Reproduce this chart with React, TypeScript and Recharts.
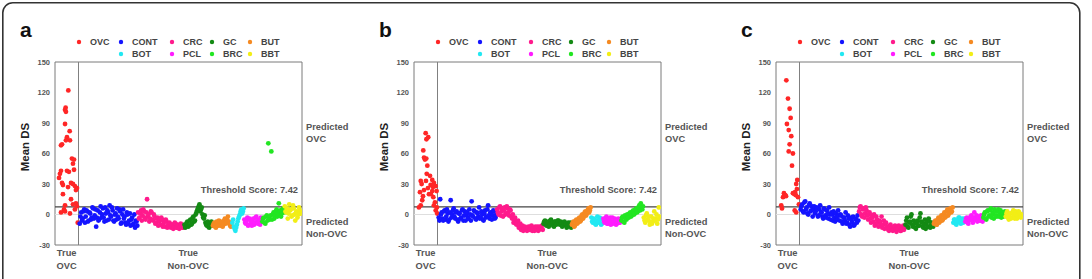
import React from 'react';
import { ScatterChart, Scatter, XAxis, YAxis, ReferenceLine, ReferenceArea, Label } from 'recharts';

const FONT = 'Arial, "Liberation Sans", Helvetica, sans-serif';

const groupNames = ['OVC', 'CONT', 'CRC', 'GC', 'BUT', 'BOT', 'PCL', 'BRC', 'BBT'];
const groupColors = ['#ff2626', '#1414ff', '#ff1a8c', '#148a14', '#f58a22', '#22e8f2', '#ff1cff', '#22e622', '#f2ee16'];

const yTicks = [-30, 0, 30, 60, 90, 120, 150];
const xTicks = [7.8, 89];
const xTickLabels = [['True', 'OVC'], ['True', 'Non-OVC']];
const rightTicks = [80, -13];
const rightTickLabels = [['Predicted', 'OVC'], ['Predicted', 'Non-OVC']];
const THRESHOLD = 7.42;
const DIVIDER = 15.7;
const X_MAX = 165;
// non-OVC samples are plotted in order, two per index step, starting here
const X_START = 16.5;

// ---- panel a ----
const ovcA = [
  [8.9, 122], [7.1, 105], [6.7, 103], [7.3, 101], [6.7, 89], [9.8, 82], [8, 76], [7.3, 73], [4.7, 69], [4, 68],
  [10, 73], [11.3, 55], [12.7, 54], [12, 50], [4, 43], [3.3, 40], [8, 43], [9.3, 42], [12.7, 44], [4.7, 31],
  [5.3, 29], [10.7, 31], [12, 30], [13.3, 28], [14.7, 26], [14, 24], [5.3, 20], [10.7, 15], [6.7, 9], [12, 10],
  [6, 5], [6.7, 3], [4, 2], [14, 11], [13.3, 5], [15.2, -8], [2.7, 36], [8.7, 27], [14.7, 8], [10, 1],
];
const contA = [-9, 2, -4, 5, -2, 3, -6, 1, -3, 6, -1, -12, 4, -5, 8, 0, -3, 7, -6, 2, 9, -2, 4, -7, 1, 6, -4, 3, -8, 5, -2, -10, 0, -6, -11, -3, -9, -13, -7];
const contA2 = [-2, -6, 3, -8, 4, -7, 2, -5, 7, -4, 5, -3, -6, 2, -3, 6, -7, 1, 4, -5, -1, 7, -6, 0, -5, -2, 5, -9, 0, -4, -8, 2, -9, 1, -5, -10, 0, -6, -11];
const crcA = [2, -3, 4, -1, 3, -5, 15, 0, -4, 2, -6, -2, -8, -3, -7, -10, -5, -9, -12, -7, -11, -8, -13, -10, -12, -9, -13, -11, -12, -10, -13];
const crcA2 = [-4, 1, -6, 5, -3, 2, -2, -7, 3, -5, 0, -9, -4, -11, -6, -3, -12, -7, -5, -13, -9, -12, -10, -14, -8, -13, -10, -14, -9, -13, -11];
const gcA = [-10, -12, -7, -11, -5, -9, -2, -6, 2, 6, 10, 5, 0, -4, -8, -11, -12, -10, -7];
const gcA2 = [-13, -8, -12, -6, -10, -3, -7, 0, 4, 8, 3, 7, -3, -1, -10, -7, -13, -8, -11];
const butA = [-11, -8, -13, -9, -6, -11, -7, -10, -4, -8, -2, -9, -12];
const butA2 = [-9, -12, -7, -11, -10, -8, -12, -6, -9, -5, -7, -11, -8];
const botA = [-8, -12, -16, -10, -4, 0, 5, 3];
const botA2 = [-5, -14, -13, -7, -2, 3, 1, 6];
const pclA = [-5, -9, -3, -10, -6, -11, -4, -8, -2, -9, -6, -3];
const pclA2 = [-8, -6, -11, -4, -9, -7, -10, -3, -7, -5, -10, -7];
const brcA = [-7, -3, -9, -1, 70, -5, 62, 0, -4, 3, -2, 11, 4, 1, 6];
const brcA2 = [-4, -8, -2, -6, -3, -1, -5, 2, -1, 5, 1, 3, -2, 5, 2];
const bbtA = [8, 2, -4, 10, 5, -1, 6, -6, 3, 0, 4];
const bbtA2 = [3, 6, 1, 4, -2, 9, 0, 2, -3, 7, 1];

// ---- panel b ----
const ovcB = [
  [7.8, 80], [9.5, 76], [8.3, 74], [6.2, 63], [6.7, 56], [8.2, 55], [7.3, 54], [8.9, 48], [8.5, 40], [10.7, 38],
  [4.5, 33], [5.1, 30], [12.2, 34], [13.3, 31], [11.1, 29], [6.7, 24], [12.2, 23], [4, 22], [10, 20], [14.5, 28],
  [15.1, 23], [5.5, 14], [12.9, 17], [14, 12], [3.3, 7], [4.5, 9], [14.5, 4], [15.5, 1], [9.3, 26], [11.3, 20],
  [12.7, 27], [8, 33], [6, 18], [13.3, 9], [15.3, 7],
];
const contB = [-3, 15, 2, -6, 4, -2, 1, -5, 14, 0, 6, -4, 3, -7, 1, -3, 5, -1, -6, 2, -4, 0, 13, -2, 3, -5, 1, 7, -3, 0, -6, 4, -2, 9, -4, 1, -1, 3, -3];
const contB2 = [-6, 0, -4, 3, -5, 5, -7, 2, -3, 4, -2, 2, -5, 1, -4, 4, -6, 3, 0, -3, 5, -6, -1, 4, -4, 2, -2, -4, 3, -5, 1, -3, 5, -1, 2, -5, 4, -4, 0];
const crcB = [5, 0, 8, 3, -2, 7, 1, 6, -1, 4, -4, -8, -3, -10, -6, -12, -15, -11, -14, -13, -16, -12, -15, -11, -14, -16, -13, -12, -15, -14, -11];
const crcB2 = [2, 7, -1, 5, 4, 0, 8, 2, 5, -2, 0, -5, -9, -7, -13, -9, -12, -16, -12, -15, -13, -15, -12, -16, -13, -12, -15, -16, -12, -13, -15];
const gcB = [-9, -6, -11, -7, -10, -5, -8, -12, -7, -9, -6, -10, -8, -11, -7, -9, -12, -10, -8];
const gcB2 = [-7, -10, -8, -12, -6, -9, -11, -7, -10, -6, -9, -7, -12, -8, -10, -13, -8, -11, -13];
const butB = [-10, -7, -11, -5, -8, -3, -6, 0, -2, 3, 1, 6, 4];
const butB2 = [-8, -12, -6, -9, -4, -7, -1, -4, 2, -1, 4, 2, 7];
const botB = [-3, -8, -5, -10, -2, -7, -4, -9];
const botB2 = [-7, -4, -9, -6, -8, -3, -10, -5];
const pclB = [-4, -8, -2, -9, -5, -10, -3, -7, -6, -9, -4, -8];
const pclB2 = [-7, -5, -9, -6, -3, -7, -9, -4, -10, -5, -8, -6];
const brcB = [-6, -2, -8, -4, 0, -3, 2, -1, 4, 1, 6, 3, 9, 11, 5];
const brcB2 = [-3, -7, -1, -5, -3, 1, -2, 3, 0, 5, 2, 7, 4, 6, 8];
const bbtB = [-3, -8, 1, -6, -10, -2, -7, 3, -4, -9, 7];
const bbtB2 = [-6, -1, -5, -2, -7, -9, -4, -6, 0, -5, -2];

// ---- panel c ----
const ovcC = [
  [6.9, 132], [8, 114], [9.1, 104], [9.8, 95], [7.3, 89], [8.5, 83], [10.2, 77], [9.1, 69], [8.5, 62], [11.3, 60],
  [10.7, 48], [14.2, 34], [13.5, 30], [5.3, 21], [6.2, 19], [4.7, 17], [11.3, 21], [12.3, 20], [13.3, 19], [14.7, 17],
  [3.5, 9], [12.5, 4], [13.5, 2], [15.3, 10], [4, 6], [14, 25], [12.7, 22], [6.7, 18],
];
const contC = [5, 10, 2, 13, 7, 0, 11, 4, -2, 8, 3, 6, -1, 9, 2, -4, 5, -3, 1, 7, -5, 0, 3, -7, -2, 4, -6, -1, -9, -3, 2, -8, -4, -12, -6, -2, -10, -5, -1];
const contC2 = [8, 3, 12, 5, 1, 9, 3, 8, 5, 1, 7, -2, 5, 2, -2, 6, -1, 4, -4, 0, 2, -6, -3, 1, -5, -1, 0, -7, -3, -6, -9, -1, -10, -3, -8, -11, -4, -8, -6];
const crcC = [3, 8, -2, 6, 1, 4, -5, 2, -8, -3, 0, -9, -5, -12, -7, -2, -10, -14, -8, -12, -16, -10, -13, -15, -11, -17, -14, -12, -16, -13, -15];
const crcC2 = [7, 0, 5, -3, 7, -1, 0, -4, -1, -7, -11, -2, -8, -6, -10, -13, -6, -9, -13, -15, -11, -14, -16, -12, -15, -13, -11, -16, -14, -11, -12];
const gcC = [-10, -3, -13, -7, 0, -12, -9, -14, -6, -11, 1, -8, -13, -5, -10, -12, -7, -11, -9];
const gcC2 = [-6, -12, -8, -2, -10, -6, -13, -8, -11, -3, -7, -12, -9, -14, -7, -4, -13, -8, -12];
const butC = [-9, -6, -10, -3, -7, -1, -5, 2, -2, 5, 1, 6, 3];
const butC2 = [-7, -10, -5, -8, -4, -6, 0, -3, 3, -1, 4, 2, 7];
const botC = [-8, -5, -10, -6, -3, -9, -4, -7];
const botC2 = [-5, -9, -7, -3, -8, -5, -8, -4];
const pclC = [-7, -3, -9, -5, -1, -8, 2, -4, -7, -2, -6, -3];
const pclC2 = [-4, -8, -5, -2, -6, -3, -5, -1, -3, -6, -1, -7];
const brcC = [-3, 2, -5, 4, -1, 6, 0, -4, 3, -2, 5, 1, -3, 2, -1];
const brcC2 = [0, -4, 3, -2, 4, -3, 2, 5, -1, 3, -2, 4, 0, -2, 3];
const bbtC = [-2, 3, -5, 1, -3, 4, -4, 0, -1, 2, -3];
const bbtC2 = [1, -3, 0, -4, 2, -1, 3, -4, 3, -2, 0];

type Pt = { x: number; y: number };

// each non-OVC group comes as two interleaved runs of samples
function buildGroups(ovc: number[][], rest: number[][][]): Pt[][] {
  let i = 0;
  const out: Pt[][] = [ovc.map(([x, y]) => ({ x, y }))];
  rest.forEach(([first, second]) => {
    const pts: Pt[] = [];
    first.forEach((y, k) => {
      pts.push({ x: X_START + i + k, y });
      if (second[k] !== undefined) pts.push({ x: X_START + i + k + 0.5, y: second[k] });
    });
    i += first.length;
    out.push(pts);
  });
  return out;
}

const panels = [
  {
    letter: 'a',
    left: 0,
    groups: buildGroups(ovcA, [[contA, contA2], [crcA, crcA2], [gcA, gcA2], [butA, butA2], [botA, botA2], [pclA, pclA2], [brcA, brcA2], [bbtA, bbtA2]]),
  },
  {
    letter: 'b',
    left: 359,
    groups: buildGroups(ovcB, [[contB, contB2], [crcB, crcB2], [gcB, gcB2], [butB, butB2], [botB, botB2], [pclB, pclB2], [brcB, brcB2], [bbtB, bbtB2]]),
  },
  {
    letter: 'c',
    left: 721,
    groups: buildGroups(ovcC, [[contC, contC2], [crcC, crcC2], [gcC, gcC2], [butC, butC2], [botC, botC2], [pclC, pclC2], [brcC, brcC2], [bbtC, bbtC2]]),
  },
];

const CHART_W = 364;
const CHART_H = 279;
const BOX_LEFT = 55;
const LABEL_SIZE = 9.3;

// legend layout (dot x relative to plot left)
const legendRows = [
  { y: 42, items: [[0, 24], [1, 66], [2, 117], [3, 157], [4, 195]] },
  { y: 54, items: [[5, 66], [6, 117], [7, 157], [8, 195]] },
];

const XTick = (props: any) => {
  const { x, y, index } = props;
  const lines = xTickLabels[index] || [];
  return (
    <g>
      {lines.map((t, k) => (
        <text key={k} x={x} y={y + 10.5 + k * 13} textAnchor="middle" fontSize={LABEL_SIZE} fontWeight={700} fill="#555" fontFamily={FONT}>
          {t}
        </text>
      ))}
    </g>
  );
};

const RightTick = (props: any) => {
  const { x, y, index } = props;
  const lines = rightTickLabels[index] || [];
  return (
    <g>
      {lines.map((t, k) => (
        <text key={k} x={x + 4} y={y - 2.8 + k * 12} textAnchor="start" fontSize={LABEL_SIZE} fontWeight={700} fill="#555" fontFamily={FONT}>
          {t}
        </text>
      ))}
    </g>
  );
};

const thresholdLabel = (props: any) => {
  const { viewBox } = props;
  return (
    <text x={viewBox.x + viewBox.width - 4} y={viewBox.y - 14} textAnchor="end" fontSize={LABEL_SIZE} fontWeight={700} fill="#555" fontFamily={FONT}>
      {`Threshold Score: ${THRESHOLD}`}
    </text>
  );
};

const yTitle = () => (
  <text x={25} y={147} transform="rotate(-90 25 147)" textAnchor="middle" dominantBaseline="central" fontSize={11.5} fontWeight={700} fill="#222" fontFamily={FONT}>
    Mean DS
  </text>
);

const Panel = ({ groups }: { groups: Pt[][] }) => (
  <ScatterChart width={CHART_W} height={CHART_H} margin={{ top: 62, right: 4, bottom: 4, left: 15 }}>
    <XAxis
      type="number"
      dataKey="x"
      domain={[0, X_MAX]}
      ticks={xTicks}
      tick={<XTick />}
      tickLine={false}
      axisLine={false}
      tickSize={0}
      tickMargin={0}
      height={30}
      allowDataOverflow
    />
    <YAxis
      yAxisId="left"
      type="number"
      dataKey="y"
      domain={[-30, 150]}
      ticks={yTicks}
      tick={{ fontSize: 7.5, fontWeight: 700, fill: '#555', fontFamily: FONT }}
      tickLine={false}
      axisLine={false}
      tickSize={0}
      tickMargin={5}
      width={40}
      allowDataOverflow
    >
      <Label content={yTitle} />
    </YAxis>
    <YAxis
      yAxisId="right"
      orientation="right"
      type="number"
      domain={[-30, 150]}
      ticks={rightTicks}
      tick={<RightTick />}
      tickLine={false}
      axisLine={false}
      tickSize={0}
      tickMargin={0}
      width={58}
      allowDataOverflow
    />
    <ReferenceLine yAxisId="left" y={0} stroke="#dedede" strokeWidth={1} />
    <ReferenceArea yAxisId="left" x1={0} x2={X_MAX} y1={-30} y2={150} fill="none" stroke="#7a7a7a" strokeWidth={1} />
    <ReferenceLine yAxisId="left" x={DIVIDER} stroke="#808080" strokeWidth={1} />
    {groups.map((pts, g) => (
      <Scatter
        key={groupNames[g]}
        yAxisId="left"
        name={groupNames[g]}
        data={pts}
        isAnimationActive={false}
        shape={(p: any) => <circle cx={p.cx} cy={p.cy} r={2.4} fill={groupColors[g]} />}
      />
    ))}
    <ReferenceLine yAxisId="left" y={THRESHOLD} stroke="#444" strokeWidth={1.2} label={thresholdLabel} />
  </ScatterChart>
);

export default function App() {
  return (
    <div style={{ position: 'absolute', left: 0, top: 0, width: 1092, height: 279, overflow: 'hidden', background: '#fff' }}>
      <svg width={1092} height={279} style={{ position: 'absolute', left: 0, top: 0 }}>
        <rect x={2.8} y={2.8} width={1077} height={340} rx={10} fill="none" stroke="#333" strokeWidth={1.6} />
        {panels.map((p) => {
          const bx = p.left + BOX_LEFT;
          return (
            <g key={p.letter}>
              <text x={bx - 35} y={37} fontSize={21} fontWeight={700} fill="#111" fontFamily={FONT}>
                {p.letter}
              </text>
              {legendRows.map((row, r) =>
                row.items.map(([g, dx]) => (
                  <g key={`${r}-${g}`}>
                    <circle cx={bx + dx} cy={row.y} r={2.2} fill={groupColors[g]} />
                    <text x={bx + dx + 11} y={row.y + 3.2} fontSize={9} fontWeight={700} fill="#444" fontFamily={FONT}>
                      {groupNames[g]}
                    </text>
                  </g>
                ))
              )}
            </g>
          );
        })}
      </svg>
      {panels.map((p) => (
        <div key={p.letter} style={{ position: 'absolute', left: p.left, top: 0 }}>
          <Panel groups={p.groups} />
        </div>
      ))}
    </div>
  );
}
